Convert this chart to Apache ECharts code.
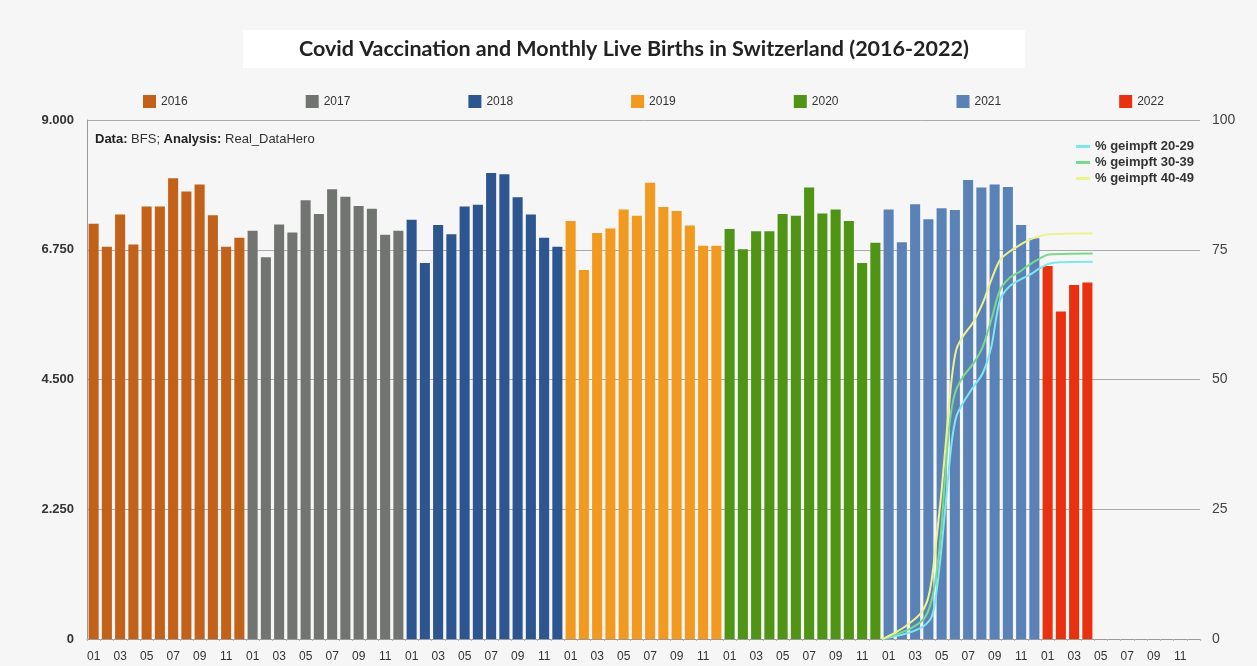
<!DOCTYPE html>
<html lang="en">
<head>
    <meta charset="UTF-8">
    <title>Covid Vaccination and Monthly Live Births in Switzerland</title>
    <script src="https://cdn.jsdelivr.net/npm/echarts@6/dist/echarts.min.js"></script>
    <style>
        html, body { margin: 0; padding: 0; background: #f6f6f6; }
        #chart { width: 1257px; height: 666px; }
    </style>
</head>
<body>
<div id="chart"></div>
<script>
    // categories
    const years = ['2016', '2017', '2018', '2019', '2020', '2021', '2022'];
    const monthLabels = ['01', '02', '03', '04', '05', '06', '07', '08', '09', '10', '11', '12'];

    // monthly live births per year
    const births2016 = [7200, 6800, 7360, 6840, 7500, 7500, 7990, 7760, 7880, 7350, 6800, 6960];
    const births2017 = [7080, 6620, 7190, 7050, 7610, 7370, 7800, 7670, 7510, 7460, 7010, 7080];
    const births2018 = [7270, 6520, 7180, 7020, 7500, 7530, 8080, 8060, 7660, 7360, 6960, 6800];
    const births2019 = [7250, 6400, 7040, 7120, 7450, 7340, 7910, 7490, 7420, 7170, 6820, 6820];
    const births2020 = [7110, 6760, 7070, 7070, 7370, 7340, 7830, 7380, 7450, 7250, 6520, 6870];
    const births2021 = [7450, 6880, 7540, 7280, 7470, 7440, 7960, 7830, 7880, 7840, 7180, 6950];
    const births2022 = [6470, 5680, 6140, 6180];

    const yearColors = ['#c2611a', '#717471', '#2d5590', '#f29a1f', '#4f9415', '#5b82b6', '#e9300f'];

    // vaccination share, [month position (0 = start of 2016-01), percent]
    const vacc2029 = [[60.0, 0], [61.9, 1.1], [63.1, 2.4], [63.75, 4.3], [64.1, 8.8], [64.5, 17.8], [64.9, 28.7],
        [65.25, 37.7], [65.6, 42.8], [66.1, 45.4], [66.9, 48.6], [67.6, 51.2], [68.25, 56.3], [68.9, 65.3],
        [69.6, 67.9], [70.4, 69.2], [71.1, 70.1], [71.9, 71.4], [72.6, 72.3], [73.4, 72.6], [75.9, 72.7]];
    const vacc3039 = [[60.0, 0], [61.9, 1.7], [63.1, 3.7], [63.6, 6.2], [64.0, 10.7], [64.4, 19], [64.75, 30.6],
        [65.1, 41.6], [65.5, 47.3], [66.1, 50.5], [66.9, 53.1], [67.6, 56.3], [68.25, 61.5], [68.9, 67.2],
        [69.6, 69.5], [70.4, 70.8], [71.1, 72.1], [71.9, 73.3], [72.6, 74.1], [75.9, 74.3]];
    const vacc4049 = [[60.0, 0], [60.9, 1.1], [61.9, 2.7], [62.9, 4.9], [63.4, 7.2], [63.75, 11.4], [64.1, 19],
        [64.5, 28.7], [64.9, 40.3], [65.25, 49.9], [65.6, 55.7], [66.1, 58.3], [66.9, 61.1], [67.6, 64.7],
        [68.25, 69.2], [68.9, 73], [69.6, 74.6], [70.4, 75.9], [71.1, 76.9], [71.9, 77.6], [72.6, 78], [75.9, 78.2]];

    const lineNames = ['% geimpft 20-29', '% geimpft 30-39', '% geimpft 40-49'];
    const lineColors = ['#7fe6ef', '#7ad98c', '#eef28e'];

    const allBirths = [births2016, births2017, births2018, births2019, births2020, births2021, births2022];
    const categories = [];
    years.forEach(y => monthLabels.forEach(m => categories.push(m)));

    const chart = echarts.init(document.getElementById('chart'));

    const barSeries = years.map((y, i) => {
        const data = new Array(84).fill(null);
        allBirths[i].forEach((v, j) => { data[i * 12 + j] = v; });
        return {
            name: y,
            type: 'bar',
            stack: 'births',
            data: data,
            barCategoryGap: '24%',
            itemStyle: { color: yearColors[i] },
            xAxisIndex: 0,
            yAxisIndex: 0
        };
    });

    const lineSeries = [vacc2029, vacc3039, vacc4049].map((d, i) => ({
        name: lineNames[i],
        type: 'line',
        data: d,
        smooth: 0.3,
        symbol: 'none',
        xAxisIndex: 1,
        yAxisIndex: 1,
        lineStyle: { color: lineColors[i], width: 2 },
        itemStyle: { color: lineColors[i] },
        z: 5
    }));

    const fmtThousands = v => String(v).replace(/\B(?=(\d{3})+(?!\d))/g, '.');

    const option = {
        backgroundColor: '#f6f6f6',
        animation: false,
        title: {
            text: 'Covid Vaccination and Monthly Live Births in Switzerland (2016-2022)',
            left: 243,
            top: 30,
            backgroundColor: '#ffffff',
            padding: [8, 56, 8, 56],
            textStyle: { fontFamily: 'Lato', fontWeight: 'bold', fontSize: 21.5, color: '#222' }
        },
        legend: [{
            data: years,
            left: 138,
            top: 90,
            itemWidth: 13,
            itemHeight: 13,
            itemGap: 118,
            icon: 'rect',
            textStyle: { fontFamily: 'Liberation Sans', fontSize: 12, color: '#333' }
        }, {
            data: lineNames,
            orient: 'vertical',
            left: 1071,
            top: 135,
            itemWidth: 14,
            itemHeight: 3,
            itemGap: 3,
            icon: 'rect',
            textStyle: { fontFamily: 'Liberation Sans', fontSize: 13, fontWeight: 'bold', color: '#333' }
        }],
        graphic: [{
            type: 'text',
            left: 95,
            top: 133,
            style: {
                text: '{b|Data:} BFS; {b|Analysis:} Real_DataHero',
                rich: {
                    b: { fontWeight: 'bold', fontSize: 13, fontFamily: 'Liberation Sans', fill: '#222' }
                },
                fontSize: 13,
                fontFamily: 'Liberation Sans',
                fill: '#333'
            }
        }],
        grid: { left: 87, right: 57, top: 120, bottom: 27 },
        xAxis: [{
            type: 'category',
            data: categories,
            axisLine: { lineStyle: { color: '#999' } },
            axisTick: { show: true, interval: 0, length: 2, lineStyle: { color: '#bbb' } },
            axisLabel: {
                interval: 1,
                color: '#333',
                fontSize: 12,
                fontFamily: 'Liberation Sans',
                margin: 12
            }
        }, {
            type: 'value',
            min: 0,
            max: 84,
            show: false
        }],
        yAxis: [{
            type: 'value',
            min: 0,
            max: 9000,
            interval: 2250,
            axisLine: { show: true, lineStyle: { color: '#999' } },
            axisTick: { show: false },
            splitLine: { lineStyle: { color: '#aaa', width: 1 } },
            axisLabel: {
                formatter: fmtThousands,
                color: '#333',
                fontSize: 13,
                fontWeight: 'bold',
                fontFamily: 'Liberation Sans',
                margin: 13
            }
        }, {
            type: 'value',
            min: 0,
            max: 100,
            interval: 25,
            axisLine: { show: false },
            axisTick: { show: false },
            splitLine: { show: false },
            axisLabel: {
                color: '#444',
                fontSize: 14,
                fontFamily: 'Liberation Sans',
                margin: 12
            }
        }],
        series: barSeries.concat(lineSeries)
    };

    chart.setOption(option);
</script>
</body>
</html>
